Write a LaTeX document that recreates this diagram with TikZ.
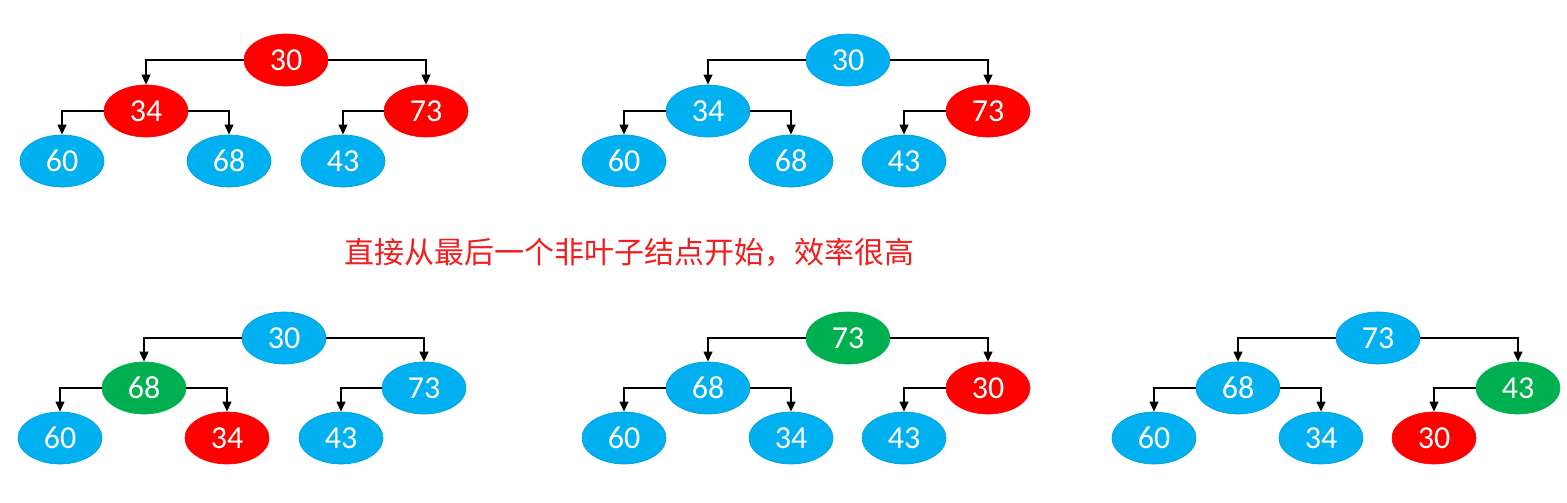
\documentclass[tikz,border=0pt]{standalone}
\usepackage{fontspec}
\setmainfont{Carlito}
\newfontfamily\cjk{Noto Sans CJK SC}
\usetikzlibrary{shapes.geometric,arrows.meta}
\definecolor{hblue}{HTML}{00B0F0}
\definecolor{hred}{HTML}{FF0000}
\definecolor{hgreen}{HTML}{00B050}
\definecolor{hnote}{HTML}{F01E1E}
\tikzset{
  nd/.style={ellipse, minimum width=63pt, minimum height=39pt, inner sep=0pt,
    text=white, font=\fontsize{24}{24}\selectfont, line width=0.5pt},
  bl/.style={nd, fill=hblue, draw=hblue!85!black!70!hblue},
  rd/.style={nd, fill=hred, draw=hred},
  gr/.style={nd, fill=hgreen, draw=hgreen},
  arr/.style={line width=1.5pt, -{Triangle[length=7.5pt,width=6.5pt]}},
}
\begin{document}
\begin{tikzpicture}[x=0.75pt,y=-0.75pt]
\useasboundingbox (0,0) rectangle (1567,503);
% tree 1
\node[rd] (a1) at (286,60) {30};
\node[rd] (a2) at (146,111) {34};
\node[rd] (a3) at (426,111) {73};
\node[bl] (a4) at (62,161) {60};
\node[bl] (a5) at (229,161) {68};
\node[bl] (a6) at (343,161) {43};
% tree 2
\node[bl] (b1) at (848,60) {30};
\node[bl] (b2) at (708,111) {34};
\node[rd] (b3) at (988,111) {73};
\node[bl] (b4) at (624,161) {60};
\node[bl] (b5) at (791,161) {68};
\node[bl] (b6) at (904,161) {43};
% tree 3
\node[bl] (c1) at (284,338) {30};
\node[gr] (c2) at (144,388) {68};
\node[bl] (c3) at (424,388) {73};
\node[bl] (c4) at (60,438) {60};
\node[rd] (c5) at (227,438) {34};
\node[bl] (c6) at (341,438) {43};
% tree 4
\node[gr] (d1) at (848,338) {73};
\node[bl] (d2) at (708,388) {68};
\node[rd] (d3) at (988,388) {30};
\node[bl] (d4) at (624,438) {60};
\node[bl] (d5) at (791,438) {34};
\node[bl] (d6) at (904,438) {43};
% tree 5
\node[bl] (e1) at (1378,338) {73};
\node[bl] (e2) at (1238,388) {68};
\node[gr] (e3) at (1518,388) {43};
\node[bl] (e4) at (1154,438) {60};
\node[bl] (e5) at (1321,438) {34};
\node[rd] (e6) at (1434,438) {30};
\foreach \t in {a,b,c,d,e}{
  \draw[arr] (\t1.west) -| (\t2.north);
  \draw[arr] (\t1.east) -| (\t3.north);
  \draw[arr] (\t2.west) -| (\t4.north);
  \draw[arr] (\t2.east) -| (\t5.north);
  \draw[arr] (\t3.west) -| (\t6.north);
}
\node[text=hnote, font=\cjk\fontsize{22.5}{22.5}\selectfont, inner sep=0pt] (note) at (629,252) {直接从最后一个非叶子结点开始，效率很高};
\end{tikzpicture}
\end{document}
